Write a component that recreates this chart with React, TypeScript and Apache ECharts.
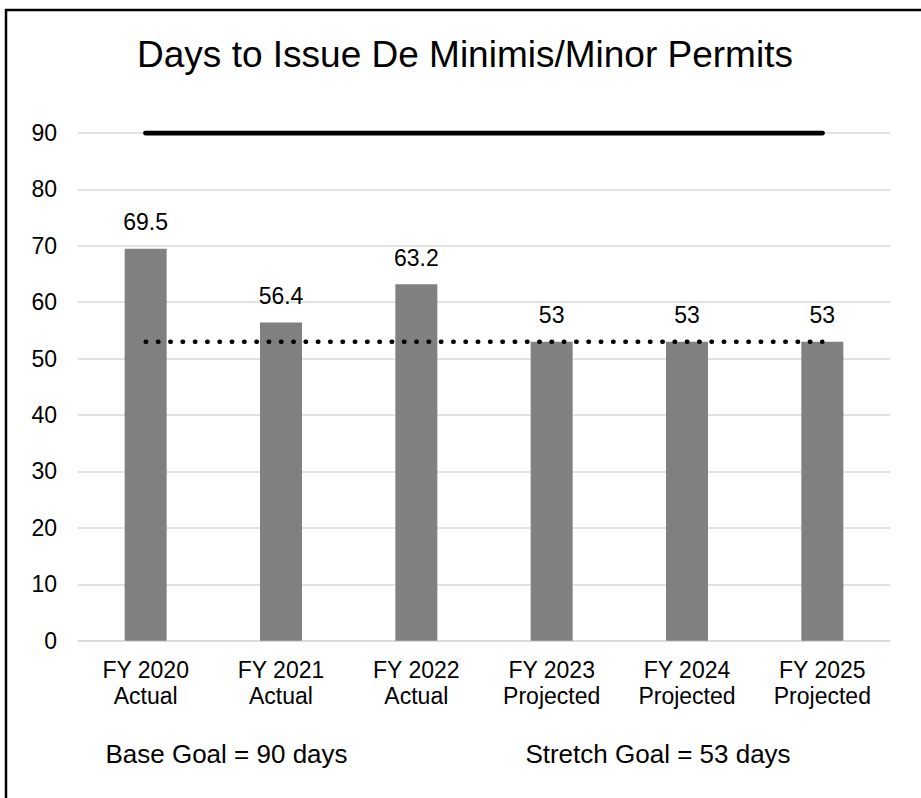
import React, { useEffect, useRef } from "react";
import * as echarts from "echarts";

const categories = [
  "FY 2020\nActual",
  "FY 2021\nActual",
  "FY 2022\nActual",
  "FY 2023\nProjected",
  "FY 2024\nProjected",
  "FY 2025\nProjected",
];
const daysValues = [69.5, 56.4, 63.2, 53, 53, 53];
const baseGoal = [90, 90, 90, 90, 90, 90];
const stretchGoal = [53, 53, 53, 53, 53, 53];
const titleText = "Days to Issue De Minimis/Minor Permits";
const baseGoalText = "Base Goal = 90 days";
const stretchGoalText = "Stretch Goal = 53 days";

const FONT = "'Liberation Sans', Arial, sans-serif";

export default function App() {
  const ref = useRef<HTMLDivElement>(null);

  useEffect(() => {
    document.body.style.margin = "0";
    if (!ref.current) return;
    const chart = echarts.init(ref.current, null, { renderer: "svg" });
    chart.setOption({
      animation: false,
      backgroundColor: "#ffffff",
      textStyle: { fontFamily: FONT },
      grid: { left: 78, right: 31, top: 133, bottom: 157.3, containLabel: false },
      xAxis: {
        type: "category",
        data: categories,
        axisLine: { show: true, lineStyle: { color: "#d9d9d9", width: 1.5 } },
        axisTick: { show: false },
        axisLabel: {
          color: "#000",
          fontSize: 23,
          lineHeight: 26,
          margin: 16,
          fontFamily: FONT,
          interval: 0,
        },
      },
      yAxis: {
        type: "value",
        min: 0,
        max: 90,
        interval: 10,
        axisLine: { show: false },
        axisTick: { show: false },
        splitLine: { lineStyle: { color: "#d9d9d9", width: 1.5 } },
        axisLabel: { color: "#000", fontSize: 23, margin: 21, fontFamily: FONT },
      },
      series: [
        {
          name: "Days",
          type: "bar",
          data: daysValues,
          barWidth: 42,
          itemStyle: { color: "#808080" },
          label: {
            show: true,
            position: "top",
            distance: 15,
            color: "#000",
            fontSize: 23,
            fontFamily: FONT,
          },
        },
        {
          name: "Base Goal",
          type: "line",
          data: baseGoal,
          symbol: "none",
          lineStyle: { color: "#000", width: 5, cap: "round" },
          z: 3,
        },
        {
          name: "Stretch Goal",
          type: "line",
          data: stretchGoal,
          symbol: "none",
          lineStyle: { color: "#000", width: 4.5, cap: "round", type: [0.5, 11.8] },
          z: 3,
        },
      ],
      graphic: [
        {
          type: "rect",
          shape: { x: 6, y: 10, width: 2000, height: 2000 },
          style: { fill: "none", stroke: "#000", lineWidth: 2.5 },
          silent: true,
        },
        {
          type: "text",
          x: 465,
          y: 54,
          style: {
            text: titleText,
            fontSize: 37,
            fontFamily: FONT,
            fill: "#000",
            textAlign: "center",
            textVerticalAlign: "middle",
          },
        },
        {
          type: "text",
          x: 226.5,
          y: 753.5,
          style: {
            text: baseGoalText,
            fontSize: 26,
            fontFamily: FONT,
            fill: "#000",
            textAlign: "center",
            textVerticalAlign: "middle",
          },
        },
        {
          type: "text",
          x: 658,
          y: 753.5,
          style: {
            text: stretchGoalText,
            fontSize: 26,
            fontFamily: FONT,
            fill: "#000",
            textAlign: "center",
            textVerticalAlign: "middle",
          },
        },
      ],
    });
    return () => chart.dispose();
  }, []);

  return (
    <div
      ref={ref}
      style={{ position: "absolute", left: 0, top: 0, width: 921, height: 798 }}
    />
  );
}
